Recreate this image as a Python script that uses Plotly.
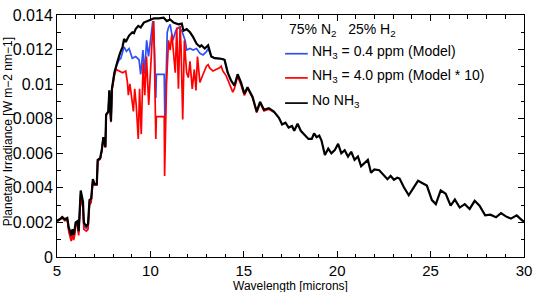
import plotly.graph_objects as go

# ---------------- data ----------------
black_x = [5.0, 5.15, 5.28, 5.42, 5.55, 5.63, 5.70, 5.76, 5.83, 5.89, 5.95, 6.00, 6.09, 6.16, 6.27, 6.39,
           6.44, 6.57, 6.66, 6.74, 6.83, 6.92, 7.01, 7.13, 7.18, 7.31, 7.40, 7.48, 7.59, 7.63, 7.75, 7.80,
           7.89, 7.94, 8.07, 8.16, 8.24, 8.37, 8.51, 8.59, 8.68, 8.86, 9.03, 9.12, 9.21, 9.35, 9.48, 9.65,
           9.83, 10.0, 10.18, 10.44, 10.71, 10.88, 11.06, 11.24, 11.50, 11.68, 11.77, 11.94, 12.12, 12.29,
           12.47, 12.65, 12.73, 12.91, 13.09, 13.26, 13.44, 13.79, 13.97, 14.14, 14.32, 14.50, 14.67, 14.85,
           15.03, 15.20, 15.47, 15.69, 15.87, 16.08, 16.34, 16.61, 16.88, 17.05, 17.23, 17.40, 17.58, 17.70,
           17.88, 18.05, 18.28, 18.46, 18.64, 18.76, 18.90, 19.04, 19.16, 19.34, 19.52, 19.69, 19.87, 20.05,
           20.22, 20.40, 20.58, 20.75, 20.93, 21.11, 21.28, 21.46, 21.64, 21.81, 21.99, 22.25, 22.51, 22.69,
           22.86, 23.04, 23.22, 23.34, 23.57, 23.83, 24.10, 24.33, 24.57, 24.80, 25.07, 25.28, 25.54, 25.81,
           26.07, 26.30, 26.56, 26.83, 27.09, 27.36, 27.62, 27.92, 28.20, 28.50, 28.77, 29.03, 29.30, 29.61,
           29.91, 30.0]
black_y = [0.00210, 0.00218, 0.00231, 0.00218, 0.00226, 0.00170, 0.00150, 0.00125, 0.00160, 0.00128,
           0.00165, 0.00200, 0.00207, 0.00150, 0.00385, 0.00320, 0.00198, 0.00179, 0.00189, 0.00329,
           0.00338, 0.00450, 0.00422, 0.00422, 0.00562, 0.00571, 0.00620, 0.00693, 0.00637, 0.00824,
           0.00842, 0.00964, 0.00786, 0.00973, 0.01066, 0.01094, 0.01132, 0.01178, 0.01216, 0.01262,
           0.01244, 0.01281, 0.01300, 0.01295, 0.01318, 0.01337, 0.01328, 0.01356, 0.01365, 0.01374,
           0.01380, 0.01380, 0.01384, 0.01365, 0.01374, 0.01356, 0.01346, 0.01350, 0.01309, 0.01318,
           0.01300, 0.01272, 0.01234, 0.01216, 0.01225, 0.01206, 0.01225, 0.01160, 0.01150, 0.01147,
           0.01141, 0.01066, 0.01020, 0.00992, 0.01057, 0.01010, 0.00945, 0.00982, 0.00926, 0.00842,
           0.00898, 0.00852, 0.00861, 0.00842, 0.00805, 0.00767, 0.00777, 0.00749, 0.00758, 0.00730,
           0.00771, 0.00730, 0.00702, 0.00683, 0.00683, 0.00715, 0.00693, 0.00702, 0.00674, 0.00590,
           0.00627, 0.00600, 0.00618, 0.00655, 0.00600, 0.00618, 0.00581, 0.00609, 0.00562, 0.00581,
           0.00525, 0.00543, 0.00562, 0.00487, 0.00506, 0.00502, 0.00469, 0.00450, 0.00469, 0.00447,
           0.00459, 0.00454, 0.00403, 0.00357, 0.00403, 0.00441, 0.00427, 0.00413, 0.00329, 0.00306,
           0.00385, 0.00366, 0.00297, 0.00332, 0.00286, 0.00306, 0.00278, 0.00325, 0.00297, 0.00241,
           0.00245, 0.00230, 0.00254, 0.00235, 0.00222, 0.00241, 0.00211, 0.00205]

blue_x = [5.0, 5.28, 5.42, 5.55, 5.63, 5.70, 5.76, 5.83, 5.89, 5.95, 6.00, 6.09, 6.16, 6.27, 6.39, 6.44,
          6.57, 6.66, 6.74, 6.83, 6.92, 7.01, 7.13, 7.18, 7.31, 7.40, 7.48, 7.59, 7.63, 7.75, 7.80, 7.89,
          7.94, 8.07, 8.20, 8.33, 8.42, 8.59, 8.72, 8.86, 9.03, 9.21, 9.39, 9.48, 9.60, 9.68, 9.80, 9.90,
          10.04, 10.13, 10.22, 10.29, 10.32, 10.74, 10.78, 10.90, 10.97, 11.06, 11.20, 11.36, 11.50, 11.68,
          11.86, 11.94, 12.12, 12.29, 12.47, 12.65, 12.82, 13.00, 13.09, 13.26, 13.44, 13.79, 13.97, 14.14]
blue_y = [0.00208, 0.00228, 0.00215, 0.00222, 0.00160, 0.00138, 0.00110, 0.00145, 0.00115, 0.00150,
          0.00192, 0.00200, 0.00140, 0.00370, 0.00305, 0.00180, 0.00165, 0.00178, 0.00318, 0.00330,
          0.00445, 0.00420, 0.00420, 0.00560, 0.00570, 0.00618, 0.00692, 0.00635, 0.00822, 0.00840,
          0.00962, 0.00784, 0.00970, 0.01062, 0.01110, 0.01141, 0.01150, 0.01216, 0.01190, 0.01206,
          0.01150, 0.01160, 0.01141, 0.01057, 0.01197, 0.01057, 0.01253, 0.01160, 0.01309, 0.01365,
          0.01197, 0.00920, 0.01057, 0.01057, 0.00740, 0.01300, 0.01328, 0.01346, 0.01253, 0.01309,
          0.01328, 0.01309, 0.01253, 0.01197, 0.01206, 0.01197, 0.01206, 0.01178, 0.01169, 0.01188,
          0.01206, 0.01160, 0.01150, 0.01147, 0.01141, 0.01066]

red_x = [5.0, 5.28, 5.42, 5.55, 5.63, 5.70, 5.76, 5.83, 5.89, 5.95, 6.00, 6.09, 6.16, 6.27, 6.39, 6.44,
         6.57, 6.66, 6.74, 6.83, 6.92, 7.01, 7.13, 7.18, 7.31, 7.40, 7.48, 7.59, 7.63, 7.75, 7.80, 7.89,
         7.94, 8.07, 8.16, 8.33, 8.51, 8.68, 8.77, 8.82, 8.90, 8.98, 9.09, 9.16, 9.24, 9.35, 9.42, 9.51,
         9.61, 9.70, 9.79, 9.91, 10.00, 10.09, 10.18, 10.29, 10.32, 10.74, 10.76, 10.86, 10.97, 11.06,
         11.15, 11.24, 11.33, 11.41, 11.50, 11.59, 11.64, 11.73, 11.82, 11.94, 12.03, 12.12, 12.24, 12.35,
         12.44, 12.52, 12.65, 12.82, 13.00, 13.09, 13.17, 13.35, 13.52, 13.70, 13.79, 13.88, 14.06, 14.23,
         14.41, 14.50, 14.67, 14.85, 15.03, 15.20, 15.47, 15.69, 15.87, 16.08, 16.34, 16.61]
red_y = [0.00205, 0.00225, 0.00210, 0.00215, 0.00145, 0.00120, 0.00092, 0.00130, 0.00098, 0.00130,
         0.00180, 0.00190, 0.00125, 0.00350, 0.00280, 0.00160, 0.00150, 0.00160, 0.00300, 0.00315,
         0.00435, 0.00415, 0.00415, 0.00555, 0.00565, 0.00615, 0.00690, 0.00632, 0.00820, 0.00838,
         0.00955, 0.00780, 0.00960, 0.01048, 0.01085, 0.01076, 0.01066, 0.01076, 0.01010, 0.00936,
         0.01001, 0.00936, 0.00842, 0.00973, 0.00880, 0.00683, 0.00973, 0.00711, 0.01122, 0.00936,
         0.01160, 0.00880, 0.01104, 0.01253, 0.01365, 0.00683, 0.00812, 0.00812, 0.00469, 0.00992,
         0.01253, 0.01197, 0.01290, 0.01160, 0.01066, 0.01328, 0.00973, 0.01337, 0.01216, 0.00796,
         0.01253, 0.01066, 0.01038, 0.01132, 0.00973, 0.01085, 0.00964, 0.01160, 0.01010, 0.01057,
         0.01104, 0.01113, 0.01094, 0.01076, 0.01085, 0.01094, 0.01104, 0.01076, 0.01048, 0.01001,
         0.00954, 0.00975, 0.01045, 0.00995, 0.00935, 0.00975, 0.00920, 0.00835, 0.00890, 0.00845,
         0.00855, 0.00838]

x_tick_vals = [5, 10, 15, 20, 25, 30]
x_tick_text = ["5", "10", "15", "20", "25", "30"]
y_tick_vals = [0, 0.002, 0.004, 0.006, 0.008, 0.010, 0.012, 0.014]
y_tick_text = ["0", "0.002", "0.004", "0.006", "0.008", "0.01", "0.012", "0.014"]

series_names = ["NH<sub>3</sub> = 0.4 ppm (Model)", "NH<sub>3</sub> = 4.0 ppm (Model * 10)", "No NH<sub>3</sub>"]
series_colors = ["#3050f5", "#ff0000", "#000000"]
header_text = "75% N<sub>2</sub>\u00a0\u00a0\u00a025% H<sub>2</sub>"

FONT = "Liberation Sans, Arial, Helvetica, sans-serif"

fig = go.Figure()
fig.add_trace(go.Scatter(x=blue_x, y=blue_y, mode="lines", name=series_names[0],
                         line=dict(color=series_colors[0], width=1.7), showlegend=False))
fig.add_trace(go.Scatter(x=red_x, y=red_y, mode="lines", name=series_names[1],
                         line=dict(color=series_colors[1], width=1.7), showlegend=False))
fig.add_trace(go.Scatter(x=black_x, y=black_y, mode="lines", name=series_names[2],
                         line=dict(color=series_colors[2], width=2.2), showlegend=False))

axis_common = dict(showgrid=False, zeroline=False, showline=True, linecolor="black", linewidth=1,
                   mirror="ticks", ticks="inside", ticklen=6, tickwidth=1, tickcolor="black",
                   ticklabeloverflow="allow",
                   tickfont=dict(family=FONT, size=16, color="black"))

fig.update_xaxes(range=[5, 30], tickvals=x_tick_vals, ticktext=x_tick_text,
                 minor=dict(ticks="inside", dtick=1, ticklen=3.5, tickcolor="black", tickwidth=1),
                 **axis_common)
fig.update_xaxes(tickfont=dict(family=FONT, size=15, color="black"))
fig.update_yaxes(range=[0, 0.014], tickvals=y_tick_vals, ticktext=y_tick_text,
                 minor=dict(ticks="inside", dtick=0.001, ticklen=3.5, tickcolor="black", tickwidth=1),
                 **axis_common)

annotations = []
# axis titles
annotations.append(dict(text="Wavelength [microns]", xref="paper", yref="paper", x=0.5, y=0,
                        yshift=-29, xanchor="center", yanchor="middle", showarrow=False,
                        font=dict(family=FONT, size=12, color="black")))
annotations.append(dict(text="Planetary Irradiance [W m\u22122 nm\u22121]", xref="paper", yref="paper",
                        x=0, y=0.515, xshift=-49, xanchor="center", yanchor="middle", textangle=-90,
                        showarrow=False, font=dict(family=FONT, size=12, color="black")))
# legend header
annotations.append(dict(text=header_text, xref="paper", yref="paper", x=(290 - 57) / 473, y=1,
                        yshift=-4, xanchor="left", yanchor="top", showarrow=False,
                        font=dict(family=FONT, size=14, color="black")))
shapes = []
line_y_px = [47, 72, 98]
for name, color, ly in zip(series_names, series_colors, line_y_px):
    yp = (257 - ly) / 250
    shapes.append(dict(type="line", xref="paper", yref="paper",
                       x0=(288 - 57) / 473, x1=(311 - 57) / 473, y0=yp, y1=yp,
                       line=dict(color=color, width=1.7)))
    annotations.append(dict(text=name, xref="paper", yref="paper", x=(313 - 57) / 473, y=yp,
                            yshift=2, xanchor="left", yanchor="middle", showarrow=False,
                            font=dict(family=FONT, size=14, color="black")))

fig.update_layout(width=539, height=292, margin=dict(l=57, r=9, t=7, b=35),
                  paper_bgcolor="white", plot_bgcolor="white",
                  annotations=annotations, shapes=shapes,
                  font=dict(family=FONT, color="black"))

fig.write_html("out.html", config={"displayModeBar": False},
               post_script="document.body.style.margin='0';")
